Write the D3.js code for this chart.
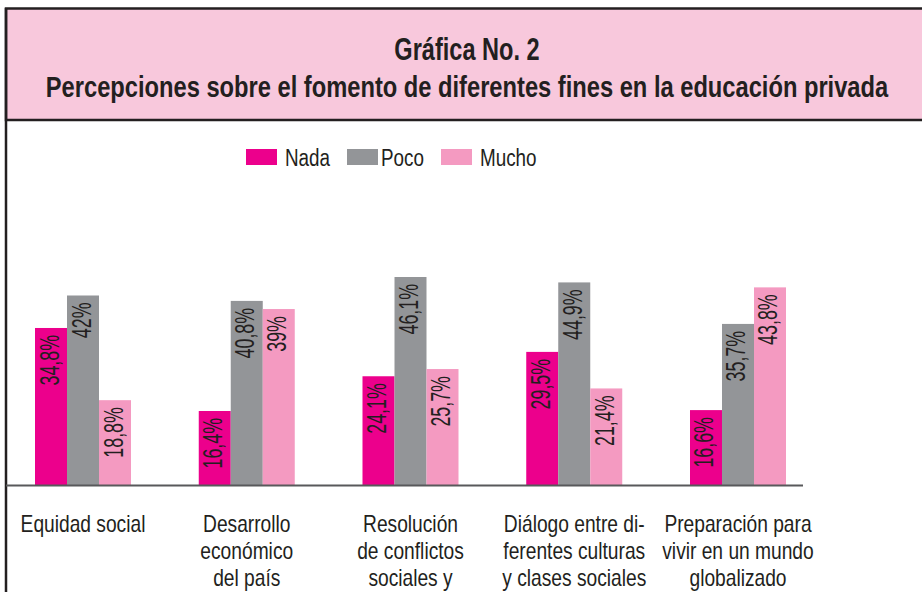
<!DOCTYPE html>
<html>
<head>
<meta charset="utf-8">
<script src="https://cdn.jsdelivr.net/npm/d3@7"></script>
<style>
  body { margin: 0; background: #fff; }
  svg { display: block; }
  text { font-family: "Liberation Sans", Arial, sans-serif; }
</style>
</head>
<body>
<svg id="svgBlock" width="922" height="592"></svg>
<script>
// chart data
const categories = [
	["Equidad social"],
	["Desarrollo", "económico", "del país"],
	["Resolución", "de conflictos", "sociales y"],
	["Diálogo entre di-", "ferentes culturas", "y clases sociales"],
	["Preparación para", "vivir en un mundo", "globalizado"]
];
const seriesNames = ["Nada", "Poco", "Mucho"];
const nadaValues = [34.8, 16.4, 24.1, 29.5, 16.6];
const pocoValues = [42, 40.8, 46.1, 44.9, 35.7];
const muchoValues = [18.8, 39, 25.7, 21.4, 43.8];
const valueLabels = [
	["34,8%", "16,4%", "24,1%", "29,5%", "16,6%"],
	["42%", "40,8%", "46,1%", "44,9%", "35,7%"],
	["18,8%", "39%", "25,7%", "21,4%", "43,8%"]
];
const colors = ["#EC008C", "#939598", "#F49AC1"];

function createChart() {
	const svg = d3.select("#svgBlock");
	const W = 922;
	const ink = "#231F20";

	// squeezed text, the original uses a condensed face
	function narrowText(parent, x, y, sx, size, str, anchor, weight) {
		return parent.append("text")
			.attr("transform", `translate(${x},${y}) scale(${sx},1)`)
			.attr("text-anchor", anchor || "start")
			.attr("font-size", size)
			.attr("font-weight", weight || "normal")
			.attr("fill", ink)
			.text(str);
	}

	// header box
	svg.append("rect")
		.attr("x", 6).attr("y", 8.5)
		.attr("width", W + 10).attr("height", 111.5)
		.attr("fill", "#F8C8DC")
		.attr("stroke", ink).attr("stroke-width", 2.5);
	// left frame line
	svg.append("line")
		.attr("x1", 6).attr("x2", 6)
		.attr("y1", 8).attr("y2", 592)
		.attr("stroke", ink).attr("stroke-width", 2.5);

	narrowText(svg, 467, 60, 0.76, 31, "Gráfica No. 2", "middle", "bold");
	narrowText(svg, 467, 97, 0.79, 30, "Percepciones sobre el fomento de diferentes fines en la educación privada", "middle", "bold");

	// scales
	const x0 = d3.scaleBand()
		.domain(d3.range(categories.length))
		.range([35, 786])
		.paddingInner(0.4137).paddingOuter(0);
	const x1 = d3.scaleBand()
		.domain(seriesNames)
		.range([0, x0.bandwidth()]);
	const y = d3.scaleLinear()
		.domain([0, 50])
		.range([485, 259.4]);

	const series = [nadaValues, pocoValues, muchoValues];

	const groups = svg.append("g").selectAll("g")
		.data(categories)
		.join("g")
		.attr("transform", (d, i) => `translate(${x0(i)},0)`);

	groups.each(function(cat, i) {
		const g = d3.select(this);
		seriesNames.forEach((s, k) => {
			const v = series[k][i];
			const bx = x1(s);
			g.append("rect")
				.attr("x", bx).attr("y", y(v))
				.attr("width", x1.bandwidth())
				.attr("height", y(0) - y(v))
				.attr("fill", colors[k]);
			const cx = bx + x1.bandwidth() / 2;
			const ty = y(v) + 7;
			g.append("text")
				.attr("transform", `translate(${cx + 7.5},${ty}) rotate(-90) scale(0.66,1)`)
				.attr("text-anchor", "end")
				.attr("font-size", 27)
				.attr("fill", ink)
				.text(valueLabels[k][i]);
		});
		cat.forEach((line, j) => {
			narrowText(g, x0.bandwidth() / 2, 532 + j * 27, 0.8, 24, line, "middle");
		});
	});

	// axis baseline
	const xAxis = d3.axisBottom(x0).tickSize(0).tickFormat("");
	svg.append("g")
		.attr("transform", `translate(0,${y(0)})`)
		.call(xAxis)
		.call(a => a.select(".domain")
			.attr("d", "M6,0.5H803")
			.attr("stroke", "#58595B").attr("stroke-width", 2));

	// legend
	const legendX = [246, 347, 441];
	const legend = svg.append("g").selectAll("g")
		.data(seriesNames)
		.join("g")
		.attr("transform", (d, i) => `translate(${legendX[i]},149)`);
	legend.append("rect")
		.attr("width", 31).attr("height", 16)
		.attr("fill", (d, i) => colors[i]);
	legend.each(function(d, i) {
		narrowText(d3.select(this), i === 1 ? 34 : 39, 16.5, 0.82, 23, d, "start");
	});
}

createChart();
</script>
</body>
</html>
